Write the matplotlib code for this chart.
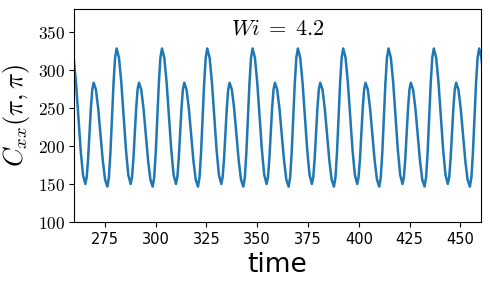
import matplotlib

matplotlib.use("Agg")
import matplotlib.pyplot as plt
import numpy as np

# C_xx(pi, pi), one row per oscillation cycle
# (each row starts at a tall peak)
time = [
    [258.44, 259.59, 260.74, 261.89, 263.04, 264.19, 265.34, 266.02, 266.71, 267.39, 268.07, 268.76,
     269.44, 270.57, 271.69, 272.82, 273.94, 275.07, 276.19, 276.95, 277.71, 278.47, 279.23, 279.99],
    [280.75, 281.90, 283.05, 284.20, 285.35, 286.50, 287.65, 288.33, 289.02, 289.70, 290.38, 291.07,
     291.75, 292.88, 294.00, 295.13, 296.25, 297.38, 298.50, 299.26, 300.02, 300.78, 301.54, 302.30],
    [303.06, 304.21, 305.36, 306.51, 307.66, 308.81, 309.96, 310.64, 311.33, 312.01, 312.69, 313.38,
     314.06, 315.19, 316.31, 317.44, 318.56, 319.69, 320.81, 321.57, 322.33, 323.09, 323.85, 324.61],
    [325.37, 326.52, 327.67, 328.82, 329.97, 331.12, 332.27, 332.95, 333.64, 334.32, 335.00, 335.69,
     336.37, 337.50, 338.62, 339.75, 340.87, 342.00, 343.12, 343.88, 344.64, 345.40, 346.16, 346.92],
    [347.68, 348.83, 349.98, 351.13, 352.28, 353.43, 354.58, 355.26, 355.95, 356.63, 357.31, 358.00,
     358.68, 359.81, 360.93, 362.06, 363.18, 364.31, 365.43, 366.19, 366.95, 367.71, 368.47, 369.23],
    [369.99, 371.14, 372.29, 373.44, 374.59, 375.74, 376.89, 377.57, 378.26, 378.94, 379.62, 380.31,
     380.99, 382.12, 383.24, 384.37, 385.49, 386.62, 387.74, 388.50, 389.26, 390.02, 390.78, 391.54],
    [392.30, 393.45, 394.60, 395.75, 396.90, 398.05, 399.20, 399.88, 400.57, 401.25, 401.93, 402.62,
     403.30, 404.43, 405.55, 406.68, 407.80, 408.93, 410.05, 410.81, 411.57, 412.33, 413.09, 413.85],
    [414.61, 415.76, 416.91, 418.06, 419.21, 420.36, 421.51, 422.19, 422.88, 423.56, 424.24, 424.93,
     425.61, 426.74, 427.86, 428.99, 430.11, 431.24, 432.36, 433.12, 433.88, 434.64, 435.40, 436.16],
    [436.92, 438.07, 439.22, 440.37, 441.52, 442.67, 443.82, 444.50, 445.19, 445.87, 446.55, 447.24,
     447.92, 449.05, 450.17, 451.30, 452.42, 453.55, 454.67, 455.43, 456.19, 456.95, 457.71, 458.47],
    [459.23, 460.38, 461.53],
]
cxx = [
    [328.0, 316.1, 283.5, 239.0, 194.5, 161.9, 150.0, 158.9, 183.3, 216.5, 249.8, 274.1,
     283.0, 273.9, 248.9, 214.8, 180.6, 155.6, 146.5, 158.7, 191.9, 237.3, 282.6, 315.8],
    [328.0, 316.1, 283.5, 239.0, 194.5, 161.9, 150.0, 158.9, 183.3, 216.5, 249.8, 274.1,
     283.0, 273.9, 248.9, 214.8, 180.6, 155.6, 146.5, 158.7, 191.9, 237.3, 282.6, 315.8],
    [328.0, 316.1, 283.5, 239.0, 194.5, 161.9, 150.0, 158.9, 183.3, 216.5, 249.8, 274.1,
     283.0, 273.9, 248.9, 214.8, 180.6, 155.6, 146.5, 158.7, 191.9, 237.3, 282.6, 315.8],
    [328.0, 316.1, 283.5, 239.0, 194.5, 161.9, 150.0, 158.9, 183.3, 216.5, 249.8, 274.1,
     283.0, 273.9, 248.9, 214.8, 180.6, 155.6, 146.5, 158.7, 191.9, 237.3, 282.6, 315.8],
    [328.0, 316.1, 283.5, 239.0, 194.5, 161.9, 150.0, 158.9, 183.3, 216.5, 249.8, 274.1,
     283.0, 273.9, 248.9, 214.8, 180.6, 155.6, 146.5, 158.7, 191.9, 237.3, 282.6, 315.8],
    [328.0, 316.1, 283.5, 239.0, 194.5, 161.9, 150.0, 158.9, 183.3, 216.5, 249.8, 274.1,
     283.0, 273.9, 248.9, 214.8, 180.6, 155.6, 146.5, 158.7, 191.9, 237.3, 282.6, 315.8],
    [328.0, 316.1, 283.5, 239.0, 194.5, 161.9, 150.0, 158.9, 183.3, 216.5, 249.8, 274.1,
     283.0, 273.9, 248.9, 214.8, 180.6, 155.6, 146.5, 158.7, 191.9, 237.3, 282.6, 315.8],
    [328.0, 316.1, 283.5, 239.0, 194.5, 161.9, 150.0, 158.9, 183.3, 216.5, 249.8, 274.1,
     283.0, 273.9, 248.9, 214.8, 180.6, 155.6, 146.5, 158.7, 191.9, 237.3, 282.6, 315.8],
    [328.0, 316.1, 283.5, 239.0, 194.5, 161.9, 150.0, 158.9, 183.3, 216.5, 249.8, 274.1,
     283.0, 273.9, 248.9, 214.8, 180.6, 155.6, 146.5, 158.7, 191.9, 237.3, 282.6, 315.8],
    [328.0, 316.1, 283.5],
]

x_ticks = [275, 300, 325, 350, 375, 400, 425, 450]
y_ticks = [100, 150, 200, 250, 300, 350]
title = r"$Wi \;=\; 4.2$"

plt.rcParams["mathtext.fontset"] = "cm"

fig = plt.figure(figsize=(4.9, 2.89), dpi=100)
ax = fig.add_axes([0.152, 0.232, 0.829, 0.737])

t = np.concatenate([np.asarray(row) for row in time])
c = np.concatenate([np.asarray(row) for row in cxx])
ax.plot(t, c, color="#1f77b4", linewidth=1.8)

ax.set_xlim(260, 460)
ax.set_ylim(100, 380)
ax.set_xticks(x_ticks)
ax.set_xticklabels([str(v) for v in x_ticks], family=["Liberation Sans Narrow", "DejaVu Sans"], fontsize=10.5)
ax.set_yticks(y_ticks)
ax.set_yticklabels([f"${v}$" for v in y_ticks], fontsize=12.5)

ax.set_xlabel("time", fontsize=19, labelpad=4)
ax.set_ylabel(r"$C_{xx}(\pi,\pi)$", fontsize=19, labelpad=4)
ax.text(0.5, 0.955, title, transform=ax.transAxes, ha="center", va="top", fontsize=16)

fig.savefig("out.png", dpi=100)
